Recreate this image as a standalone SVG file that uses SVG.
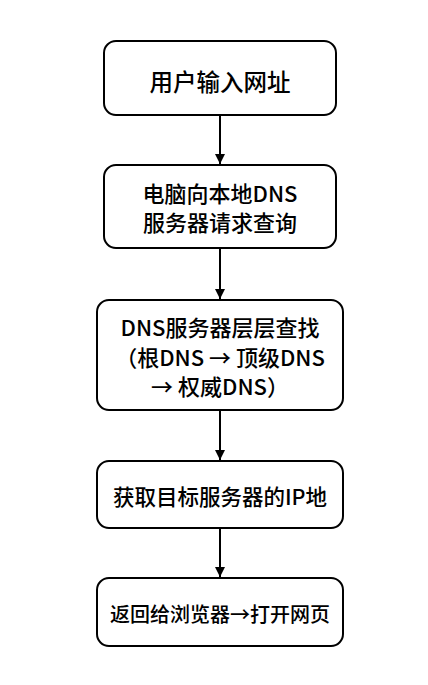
<svg xmlns="http://www.w3.org/2000/svg" width="428" height="685" viewBox="0 0 428 685">
<style>
.box{fill:#fff;stroke:#000;stroke-width:2}
.t{font-family:"Noto Sans CJK SC","Noto Sans",sans-serif;font-size:22px;font-weight:500;fill:#000;text-anchor:middle}
.big{font-size:23.5px}
.s4{font-size:21.5px}
.s5{font-size:20px}
.c{stroke:#000;stroke-width:2;fill:none}
</style>
<defs>
<marker id="ah" viewBox="0 0 10 10" refX="10" refY="5" markerWidth="6" markerHeight="5" markerUnits="strokeWidth" orient="auto">
<path d="M0,0 L10,5 L0,10 z" fill="#000"/>
</marker>
</defs>
<rect width="428" height="685" fill="#fff"/>
<g id="connectors">
<line class="c" x1="220" y1="115" x2="220" y2="164" marker-end="url(#ah)"/>
<line class="c" x1="220" y1="248" x2="220" y2="299" marker-end="url(#ah)"/>
<line class="c" x1="220" y1="410" x2="220" y2="460" marker-end="url(#ah)"/>
<line class="c" x1="220" y1="528" x2="220" y2="577" marker-end="url(#ah)"/>
</g>
<g id="n1">
<rect class="box" x="104" y="41" width="232" height="74" rx="12"/>
<text class="t big" x="220" y="91">用户输入网址</text>
</g>
<g id="n2">
<rect class="box" x="104" y="165" width="232" height="83" rx="12"/>
<text class="t" x="220" y="201.5">电脑向本地DNS</text>
<text class="t" x="220" y="231">服务器请求查询</text>
</g>
<g id="n3">
<rect class="box" x="97" y="300" width="246" height="110" rx="12"/>
<text class="t" x="220" y="336">DNS服务器层层查找</text>
<text class="t" x="220" y="366">（根DNS → 顶级DNS</text>
<text class="t" x="220" y="395">→ 权威DNS）</text>
</g>
<g id="n4">
<rect class="box" x="97" y="461" width="246" height="67" rx="12"/>
<text class="t s4" x="220" y="505">获取目标服务器的IP地</text>
</g>
<g id="n5">
<rect class="box" x="97" y="578" width="246" height="68" rx="12"/>
<text class="t s5" x="220" y="622">返回给浏览器→打开网页</text>
</g>
</svg>
